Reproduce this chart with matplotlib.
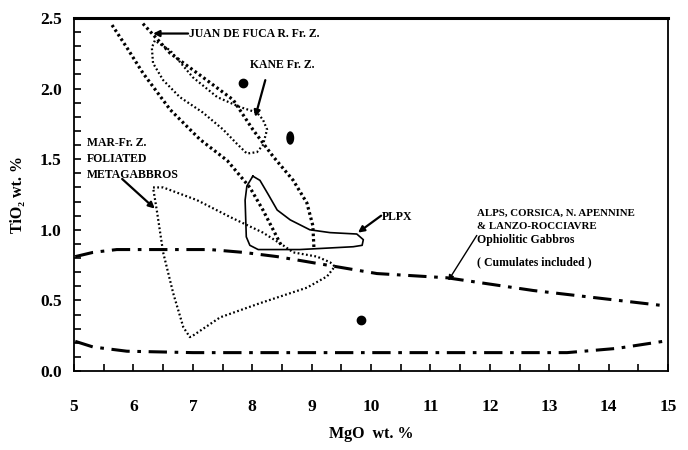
import matplotlib.pyplot as plt
from matplotlib.ticker import MultipleLocator
from matplotlib.patches import Ellipse

plt.rcParams['font.family'] = ['Liberation Serif', 'DejaVu Serif']
plt.rcParams['font.weight'] = 'bold'

# MgO / TiO2 wt. % outlines
left_trend_mgo = [5.64, 5.89, 6.16, 6.62, 7.12, 7.58, 7.96, 8.18, 8.50]
left_trend_tio2 = [2.45, 2.29, 2.11, 1.85, 1.64, 1.49, 1.30, 1.14, 0.88]
right_trend_mgo = [6.16, 6.62, 7.17, 7.68, 8.01, 8.35, 8.69, 8.92, 9.02, 9.04]
right_trend_tio2 = [2.46, 2.25, 2.08, 1.92, 1.71, 1.52, 1.35, 1.19, 1.03, 0.86]

jdf_mgo = [6.36, 6.31, 6.33, 6.50, 6.78, 7.17, 7.51, 7.74, 7.91, 8.08, 8.18,
           8.25, 8.18, 8.08, 7.79, 7.41, 7.00, 6.62, 6.36]
jdf_tio2 = [2.34, 2.29, 2.18, 2.06, 1.94, 1.83, 1.71, 1.61, 1.54, 1.55, 1.60,
            1.71, 1.78, 1.83, 1.87, 1.94, 2.08, 2.27, 2.34]

mar_mgo = [6.33, 6.50, 7.07, 7.63, 8.18, 8.52, 8.69, 9.09, 9.31, 9.39, 9.26,
           8.92, 8.13, 7.46, 7.00, 6.95, 6.84, 6.67, 6.50, 6.40, 6.33]
mar_tio2 = [1.30, 1.30, 1.21, 1.09, 0.98, 0.89, 0.84, 0.81, 0.77, 0.74, 0.67,
            0.59, 0.48, 0.38, 0.25, 0.24, 0.31, 0.55, 0.84, 1.12, 1.30]

plpx_mgo = [8.01, 8.13, 8.27, 8.42, 8.64, 8.97, 9.31, 9.76, 9.87, 9.85, 9.70,
            8.80, 8.10, 7.96, 7.90, 7.88, 7.91, 8.01]
plpx_tio2 = [1.38, 1.35, 1.25, 1.14, 1.07, 1.00, 0.98, 0.97, 0.93, 0.89, 0.88,
             0.86, 0.86, 0.89, 0.95, 1.21, 1.31, 1.38]

oph_upper_mgo = [5.02, 5.32, 5.72, 6.45, 7.29, 7.85, 8.42, 9.26, 10.10, 11.28, 12.73, 14.98]
oph_upper_tio2 = [0.81, 0.84, 0.86, 0.86, 0.86, 0.84, 0.81, 0.75, 0.69, 0.66, 0.57, 0.46]
oph_lower_mgo = [5.02, 5.32, 5.89, 7.0, 9.81, 13.3, 14.14, 14.92]
oph_lower_tio2 = [0.21, 0.17, 0.14, 0.13, 0.13, 0.13, 0.16, 0.21]

dots_mgo = [7.85, 8.64, 9.83]
dots_tio2 = [2.04, 1.65, 0.36]

fig = plt.figure(figsize=(6.88, 4.5), dpi=100)
ax = fig.add_axes([0.1076, 0.1756, 0.8634, 0.7844])

thick_dot = (0, (0.8, 0.9))
fine_dot = (0, (0.8, 1.1))
dashdot = (0, (6, 2.5, 1.2, 2.5))

ax.plot(left_trend_mgo, left_trend_tio2, color='black', lw=2.3, ls=thick_dot)
ax.plot(right_trend_mgo, right_trend_tio2, color='black', lw=2.3, ls=thick_dot)
ax.plot(jdf_mgo, jdf_tio2, color='black', lw=1.6, ls=fine_dot)
ax.plot(mar_mgo, mar_tio2, color='black', lw=1.6, ls=fine_dot)
ax.plot(plpx_mgo, plpx_tio2, color='black', lw=1.2)
ax.plot(oph_upper_mgo, oph_upper_tio2, color='black', lw=2.2, ls=dashdot)
ax.plot(oph_lower_mgo, oph_lower_tio2, color='black', lw=2.2, ls=dashdot)

# data points (the middle one is drawn taller, as in the original)
ax.plot([dots_mgo[0], dots_mgo[2]], [dots_tio2[0], dots_tio2[2]], 'o', color='black', ms=6)
ax.add_patch(Ellipse((dots_mgo[1], dots_tio2[1]), 0.11, 0.085, color='black'))

fs = 8.5
arrow = dict(arrowstyle='-|>', color='black', lw=1.6, mutation_scale=9, shrinkA=0, shrinkB=0)
ax.annotate('', xy=(6.33, 2.39), xytext=(6.92, 2.39), arrowprops=arrow)
ax.text(6.93, 2.39, 'JUAN DE FUCA R. Fr. Z.', fontsize=fs, va='center', ha='left')
ax.text(7.96, 2.17, 'KANE Fr. Z.', fontsize=fs, va='center', ha='left')
ax.annotate('', xy=(8.05, 1.80), xytext=(8.22, 2.06), arrowprops=arrow)
ax.text(5.22, 1.66, 'MAR-Fr. Z.\nFOLIATED\nMETAGABBROS', fontsize=fs, va='top', ha='left',
        linespacing=1.45)
ax.annotate('', xy=(6.36, 1.15), xytext=(5.81, 1.36), arrowprops=arrow)
ax.text(10.19, 1.09, 'PLPX', fontsize=fs, va='center', ha='left')
ax.annotate('', xy=(9.78, 0.98), xytext=(10.17, 1.10), arrowprops=arrow)
ax.text(11.78, 1.115, 'ALPS, CORSICA, N. APENNINE', fontsize=7.8, va='center', ha='left')
ax.text(11.78, 1.02, '& LANZO-ROCCIAVRE', fontsize=7.8, va='center', ha='left')
ax.text(11.78, 0.93, 'Ophiolitic Gabbros', fontsize=fs, va='center', ha='left')
ax.text(11.78, 0.77, '( Cumulates included )', fontsize=fs, va='center', ha='left')
ax.annotate('', xy=(11.30, 0.64), xytext=(11.78, 0.96),
            arrowprops=dict(arrowstyle='-|>', color='black', lw=1.0, mutation_scale=8,
                            shrinkA=0, shrinkB=0))

ax.set_xlim(5, 15)
ax.set_ylim(0, 2.5)
ax.xaxis.set_major_locator(MultipleLocator(1))
ax.xaxis.set_minor_locator(MultipleLocator(0.5))
ax.yaxis.set_major_locator(MultipleLocator(0.5))
ax.yaxis.set_minor_locator(MultipleLocator(0.1))
ax.tick_params(which='both', direction='in', length=5, width=1.2, top=False, right=False)
ax.tick_params(axis='x', pad=20, labelsize=12.5)
ax.tick_params(axis='y', pad=9, labelsize=12.5)
ax.xaxis.set_major_formatter(plt.FuncFormatter(lambda v, p: f'{v:.0f}'))
ax.yaxis.set_major_formatter(plt.FuncFormatter(lambda v, p: f'{v:.1f}'))
for s in ax.spines.values():
    s.set_linewidth(1.3)
ax.spines['top'].set_linewidth(2.2)

ax.set_xlabel('MgO  wt. %', fontsize=11.5, fontweight='bold', labelpad=8)
ax.set_ylabel('TiO₂ wt. %', fontsize=11.5, fontweight='bold', labelpad=10)

fig.savefig('out.png', dpi=100)
